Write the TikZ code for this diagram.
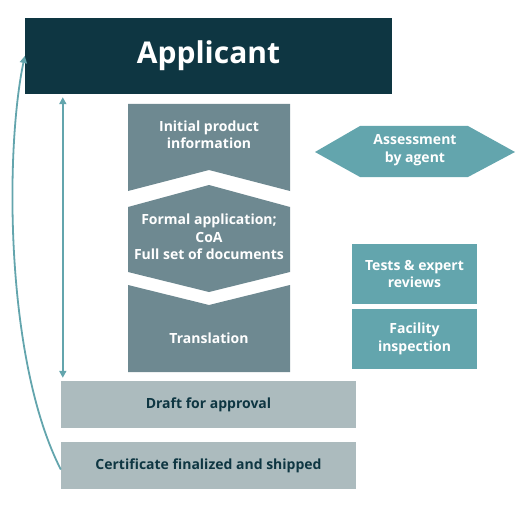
\documentclass[tikz,border=0pt]{standalone}
\usepackage{fontspec}
\setmainfont{Open Sans}
\usetikzlibrary{arrows.meta}
\definecolor{appdark}{HTML}{0E3642}
\definecolor{stepgray}{HTML}{6E8991}
\definecolor{agentteal}{HTML}{63A5AD}
\definecolor{draftgray}{HTML}{ACBBBE}

\begin{document}
\begin{tikzpicture}[x=1pt, y=-1pt, >={Triangle[length=7pt,width=7pt]},
    steptext/.style={text=white, font=\bfseries\fontsize{14}{17.5}\selectfont, align=center},
    sidebox/.style={fill=agentteal, minimum width=125pt, minimum height=60pt, inner sep=0pt, steptext},
    draftbox/.style={fill=draftgray, minimum width=295pt, minimum height=47pt, inner sep=0pt,
        text=appdark, font=\bfseries\fontsize{14}{17.5}\selectfont},
    flow/.style={agentteal, line width=1.8pt}]
    \useasboundingbox (0,0) rectangle (530,508);

    % Applicant
    \node[fill=appdark, minimum width=367pt, minimum height=76pt, inner sep=0pt, text=white,
        font=\bfseries\fontsize{30}{35}\selectfont] (applicant) at (208.5,56) {Applicant};

    % Initial product information
    \fill[stepgray] (128,104) -- (290,104) -- (290,191) -- (209,170) -- (128,191) -- cycle;
    \node[steptext] (initial) at (209,135) {Initial product\\information};

    % Formal application
    \fill[stepgray] (128,207) -- (209,185) -- (290,207) -- (290,272) -- (209,292) -- (128,272) -- cycle;
    \node[steptext] (formal) at (209,237) {Formal application;\\CoA\\Full set of documents};

    % Translation
    \fill[stepgray] (128,285) -- (209,305) -- (290,285) -- (290,372) -- (128,372) -- cycle;
    \node[steptext] (translation) at (209,338) {Translation};

    % Assessment by agent
    \fill[agentteal] (315,152) -- (360,126) -- (468,126) -- (515,152) -- (468,177) -- (360,177) -- cycle;
    \node[steptext] (agent) at (415,150) {Assessment\\by agent};

    % Tests and inspection
    \node[sidebox] (tests) at (414.5,274) {Tests \& expert\\reviews};
    \node[sidebox] (facility) at (414.5,339) {Facility\\inspection};

    % Draft and certificate
    \node[draftbox] (draft) at (208.5,404.5) {Draft for approval};
    \node[draftbox] (certificate) at (208.5,465.5) {Certificate finalized and shipped};

    % Arrows
    \coordinate (drafttop) at ([xshift=2pt]draft.north west);
    \draw[<->, flow, shorten <=3pt, shorten >=3pt] (drafttop |- applicant.south) -- (drafttop);
    \draw[->, flow] ([yshift=-4pt]certificate.west) .. controls (5,360) and (5,150) .. (applicant.west);
\end{tikzpicture}
\end{document}
